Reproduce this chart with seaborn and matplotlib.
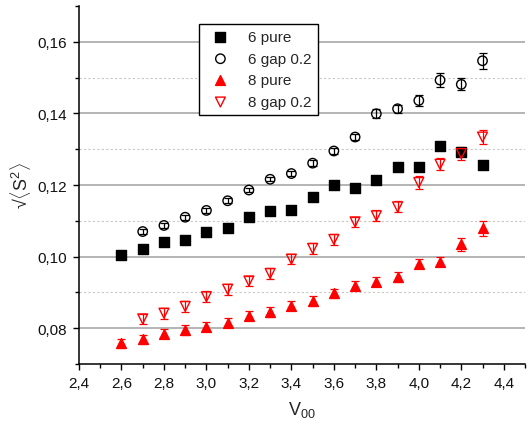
import numpy as np
import pandas as pd
import matplotlib
matplotlib.use("Agg")
import matplotlib.pyplot as plt
import matplotlib.ticker as mticker
import seaborn as sns

# ---- data ----
v00_pure = [2.6, 2.7, 2.8, 2.9, 3.0, 3.1, 3.2, 3.3, 3.4, 3.5, 3.6, 3.7, 3.8, 3.9, 4.0, 4.1, 4.2, 4.3]
v00_gap = [2.7, 2.8, 2.9, 3.0, 3.1, 3.2, 3.3, 3.4, 3.5, 3.6, 3.7, 3.8, 3.9, 4.0, 4.1, 4.2, 4.3]

pure6 = [0.1004, 0.1020, 0.1042, 0.1047, 0.1069, 0.1080, 0.1110, 0.1127, 0.1129,
         0.1166, 0.1200, 0.1193, 0.1214, 0.1249, 0.1249, 0.1310, 0.1293, 0.1257]
pure6_err = [0.0005, 0.0005, 0.0005, 0.0005, 0.0005, 0.0005, 0.0005, 0.0005, 0.0005,
             0.0006, 0.0006, 0.0006, 0.0006, 0.0007, 0.0007, 0.0010, 0.0010, 0.0006]

gap6 = [0.1070, 0.1087, 0.1110, 0.1129, 0.1156, 0.1186, 0.1216, 0.1232, 0.1261,
        0.1295, 0.1334, 0.1399, 0.1413, 0.1436, 0.1493, 0.1481, 0.1547]
gap6_err = [0.0007, 0.0007, 0.0007, 0.0007, 0.0007, 0.0006, 0.0006, 0.0006, 0.0008,
            0.0008, 0.0009, 0.0013, 0.0011, 0.0015, 0.0019, 0.0017, 0.0023]

pure8 = [0.0758, 0.0769, 0.0785, 0.0795, 0.0804, 0.0815, 0.0835, 0.0845, 0.0863,
         0.0876, 0.0897, 0.0919, 0.0930, 0.0943, 0.0980, 0.0986, 0.1034, 0.1079]
pure8_err = [0.0013, 0.0013, 0.0013, 0.0013, 0.0013, 0.0013, 0.0013, 0.0013, 0.0013,
             0.0013, 0.0013, 0.0013, 0.0013, 0.0013, 0.0013, 0.0013, 0.0017, 0.0021]

gap8 = [0.0826, 0.0842, 0.0861, 0.0888, 0.0909, 0.0932, 0.0953, 0.0993, 0.1023,
        0.1048, 0.1097, 0.1114, 0.1139, 0.1207, 0.1258, 0.1288, 0.1334]
gap8_err = [0.0015, 0.0015, 0.0015, 0.0015, 0.0015, 0.0015, 0.0015, 0.0015, 0.0015,
            0.0015, 0.0015, 0.0015, 0.0015, 0.0017, 0.0017, 0.0018, 0.0020]

labels = ["6 pure", "6 gap 0.2", "8 pure", "8 gap 0.2"]
x_ticks = [2.4, 2.6, 2.8, 3.0, 3.2, 3.4, 3.6, 3.8, 4.0, 4.2, 4.4]
y_ticks = [0.08, 0.10, 0.12, 0.14, 0.16]
y_minor = [0.07, 0.09, 0.11, 0.13, 0.15, 0.17]

# ---- style ----
sns.set_style("ticks")
plt.rcParams["font.family"] = ["Liberation Sans", "DejaVu Sans"]
plt.rcParams["mathtext.fontset"] = "custom"
plt.rcParams["mathtext.rm"] = "Liberation Sans"
plt.rcParams["mathtext.it"] = "Liberation Sans:italic"

fig = plt.figure(figsize=(5.28, 4.27), dpi=100)
ax = fig.add_axes([79 / 528, 1 - 365 / 427, 446 / 528, 358 / 427])

series = [
    (v00_pure, pure6, pure6_err, labels[0], "s", "black", "black", 44),
    (v00_gap, gap6, gap6_err, labels[1], "o", "none", "black", 46),
    (v00_pure, pure8, pure8_err, labels[2], "^", "red", "red", 50),
    (v00_gap, gap8, gap8_err, labels[3], "v", "none", "red", 50),
]

for xs, ys, es, lab, mk, fc, ec, s in series:
    ax.errorbar(xs, ys, yerr=es, fmt="none", ecolor=ec, elinewidth=0.9,
                capsize=3.2, capthick=0.9, zorder=2)
    df = pd.DataFrame({"V00": xs, "S": ys})
    sns.scatterplot(data=df, x="V00", y="S", ax=ax, marker=mk, s=s,
                    facecolor=fc, edgecolor=ec, linewidth=1.0, label=lab, zorder=3)

ax.set_xlim(2.4, 4.5)
ax.set_ylim(0.07, 0.17)
ax.set_xticks(x_ticks)
ax.set_yticks(y_ticks)
ax.xaxis.set_minor_locator(mticker.MultipleLocator(0.1))
ax.yaxis.set_minor_locator(mticker.FixedLocator(y_minor))
ax.xaxis.set_major_formatter(mticker.FuncFormatter(lambda v, p: f"{v:.1f}".replace(".", ",")))
ax.yaxis.set_major_formatter(mticker.FuncFormatter(lambda v, p: f"{v:.2f}".replace(".", ",")))

ax.grid(False)
ax.yaxis.grid(True, which="major", color="#a8a8a8", linewidth=1.2, linestyle="-", zorder=0)
ax.yaxis.grid(True, which="minor", color="#c8c8c8", linewidth=0.8, linestyle=(0, (2, 2)), zorder=0)
ax.set_axisbelow(True)
minor_ticks = ax.yaxis.get_minor_ticks()
for t, val in zip(minor_ticks, y_minor):
    if val in (0.07, 0.17):
        t.gridline.set_visible(False)

for side in ["top", "right"]:
    ax.spines[side].set_visible(False)
for side in ["left", "bottom"]:
    ax.spines[side].set_color("black")
    ax.spines[side].set_linewidth(1.1)

ax.tick_params(which="major", direction="out", length=4.5, width=1.0, color="black",
               labelsize=11, labelcolor="#111111", pad=4.5)
ax.tick_params(which="minor", direction="out", length=2.6, width=1.0, color="black")

ax.set_xlabel(r"V$_{00}$", fontsize=13, labelpad=6)
ax.set_ylabel(r"√$\langle\mathrm{S}^{2}\rangle$", fontsize=13, labelpad=3)

leg = ax.legend(loc="upper left", bbox_to_anchor=((199 - 79) / 446, (365 - 25) / 358),
                borderaxespad=0, fontsize=11, frameon=True, fancybox=False,
                edgecolor="black", framealpha=1, scatterpoints=1,
                handletextpad=0.8, labelspacing=0.5, borderpad=0.4)
leg.get_frame().set_linewidth(1.0)

fig.savefig("out.png", dpi=100)
